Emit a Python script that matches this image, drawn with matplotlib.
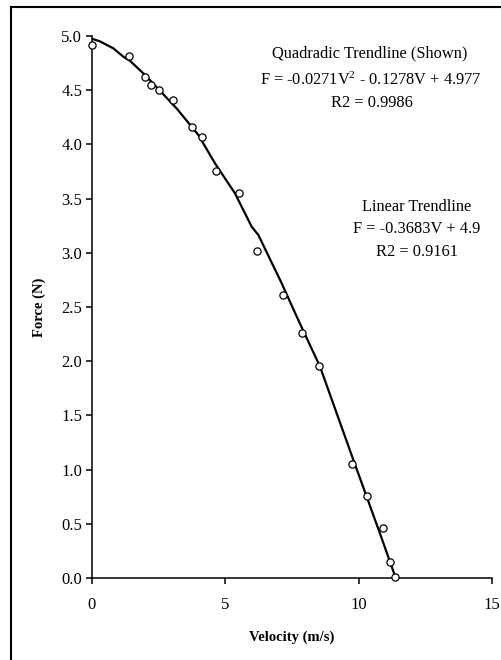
import matplotlib
matplotlib.use("Agg")
import matplotlib.pyplot as plt
from matplotlib.lines import Line2D

plt.rcParams["font.family"] = ["Liberation Serif", "DejaVu Serif"]
plt.rcParams["mathtext.fontset"] = "custom"
plt.rcParams["mathtext.rm"] = "Liberation Serif"
plt.rcParams["mathtext.it"] = "Liberation Serif:italic"
plt.rcParams["mathtext.bf"] = "Liberation Serif:bold"

# measured points (velocity m/s, force N)
velocity = [0.0, 1.4, 1.99, 2.2, 2.51, 3.05, 3.76, 4.11, 4.65, 5.5,
            6.19, 7.17, 7.86, 8.51, 9.76, 10.32, 10.92, 11.18, 11.37]
force = [4.92, 4.82, 4.62, 4.55, 4.50, 4.41, 4.16, 4.065, 3.755, 3.555,
         3.02, 2.61, 2.26, 1.955, 1.05, 0.755, 0.46, 0.15, 0.005]

# trendline as drawn
trend_v = [0.0, 0.3, 0.8, 1.17, 1.43, 1.99, 2.55, 3.18, 3.99, 4.61, 5.36,
           5.99, 6.24, 7.11, 7.68, 8.55, 9.8, 10.8, 11.36]
trend_f = [4.975, 4.95, 4.886, 4.81, 4.77, 4.64, 4.495, 4.33, 4.087, 3.826,
           3.549, 3.24, 3.164, 2.72, 2.41, 1.95, 1.09, 0.41, 0.02]

x_ticks = [0, 5, 10, 15]
y_ticks = [0.0, 0.5, 1.0, 1.5, 2.0, 2.5, 3.0, 3.5, 4.0, 4.5, 5.0]

W, H = 502, 660
fig = plt.figure(figsize=(W / 100, H / 100), dpi=100)
ax = fig.add_axes([92 / W, 1 - 578 / H, 400 / W, 542 / H])

ax.plot(trend_v, trend_f, color="black", linewidth=1.6, zorder=2)
ax.plot(velocity, force, linestyle="none", marker="o", markersize=5.2,
        markerfacecolor="white", markeredgecolor="black", markeredgewidth=0.9,
        zorder=3, clip_on=False)

ax.set_xlim(0, 15)
ax.set_ylim(0, 5)
ax.set_xticks(x_ticks)
ax.set_yticks(y_ticks)
ax.set_yticklabels([f"{t:.1f}" for t in y_ticks])
for s in ["top", "right"]:
    ax.spines[s].set_visible(False)
for s in ["left", "bottom"]:
    ax.spines[s].set_linewidth(1.1)
ax.tick_params(axis="both", direction="out", length=4, width=1.1, labelsize=12)
ax.tick_params(axis="x", pad=10)
ax.tick_params(axis="y", pad=3)

ax.set_xlabel("Velocity (m/s)", fontsize=10.5, fontweight="bold", labelpad=12)
ax.set_ylabel("Force (N)", fontsize=10.5, fontweight="bold", labelpad=11)

# trendline notes
notes = [
    (370, 53, "Quadradic Trendline (Shown)"),
    (371, 80, r"F = -0.0271V$^{2}$ - 0.1278V + 4.977"),
    (372, 103, "R2 = 0.9986"),
    (417, 207, "Linear Trendline"),
    (417, 229, "F = -0.3683V + 4.9"),
    (417, 252, "R2 = 0.9161"),
]
for nx, ny, txt in notes:
    fig.text(nx / W, 1 - ny / H, txt, ha="center", va="center", fontsize=11.8)

# outer frame (only left and top edges are inside the image)
fig.add_artist(Line2D([11.5 / W, 11.5 / W], [0, 1 - 7 / H], color="black", linewidth=1.5))
fig.add_artist(Line2D([11.5 / W, 1], [1 - 7 / H, 1 - 7 / H], color="black", linewidth=1.5))

fig.savefig("out.png", dpi=100)
